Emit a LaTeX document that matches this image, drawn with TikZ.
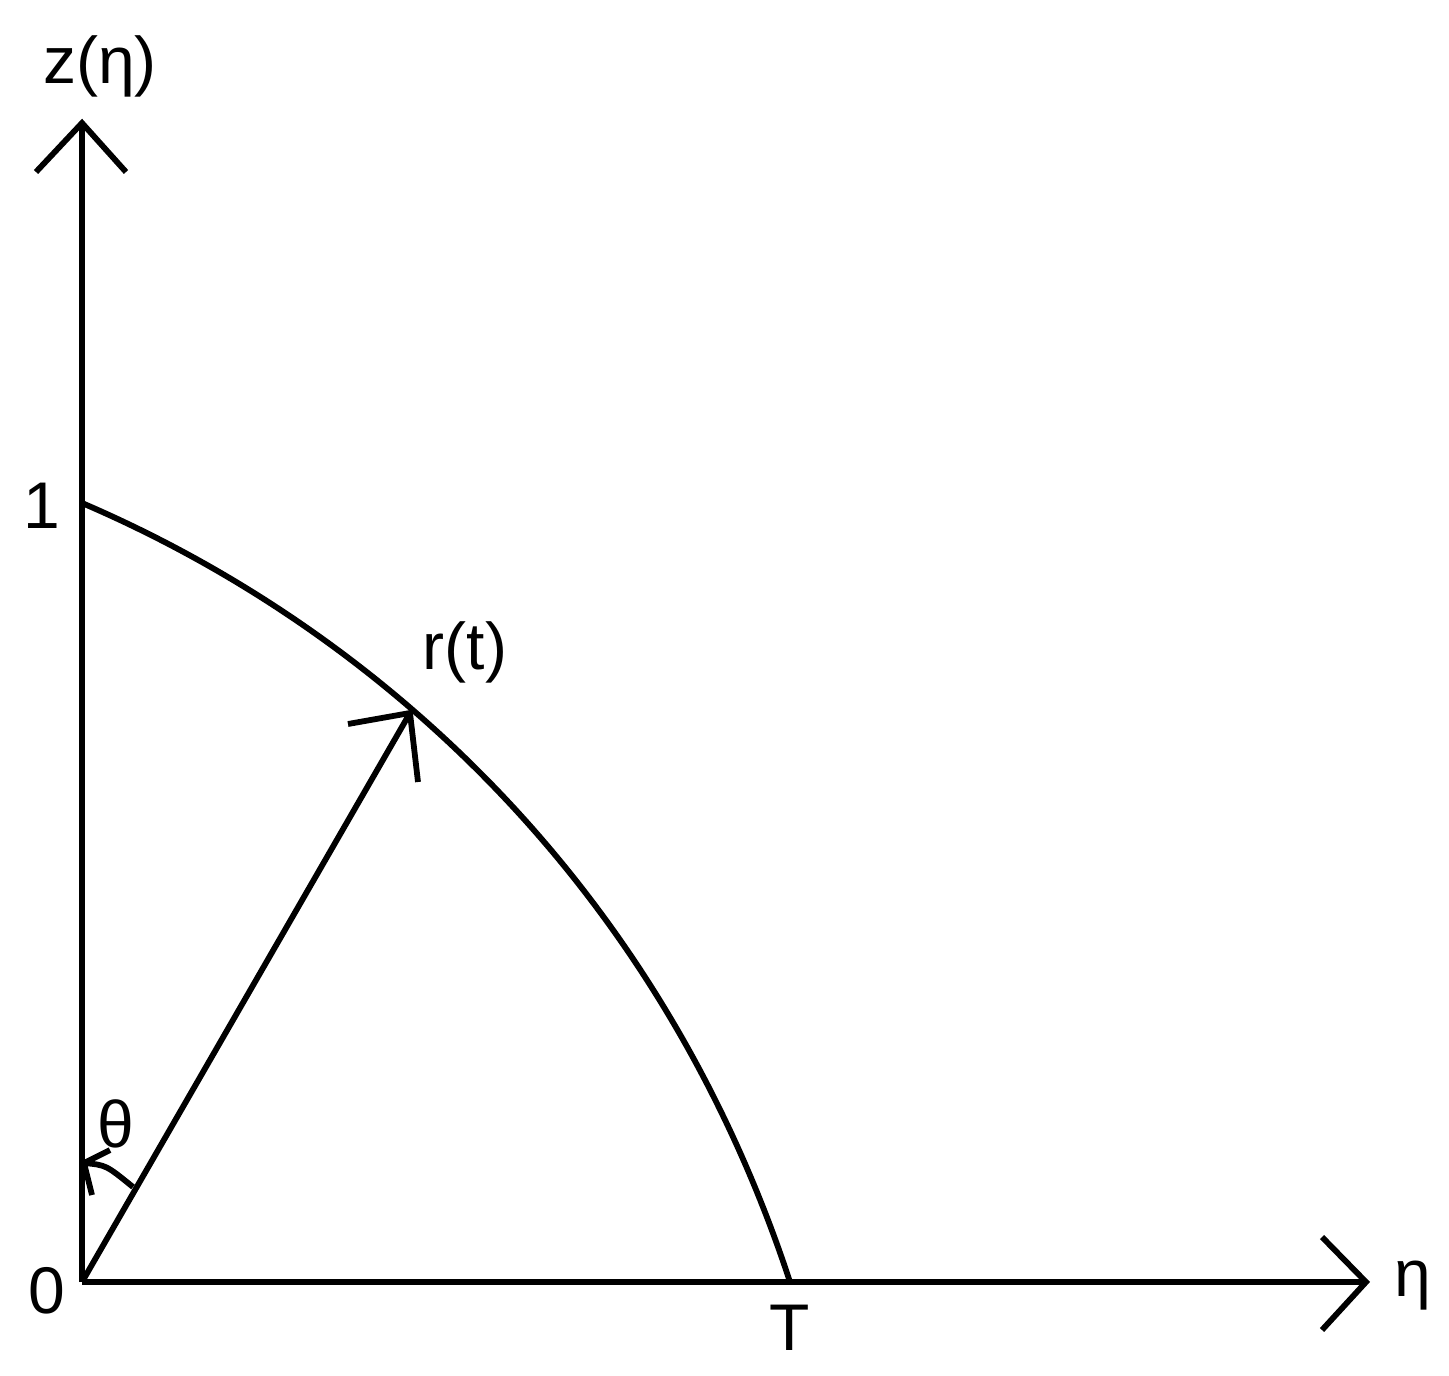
\documentclass[tikz,border=0pt]{standalone}
\usepackage{fontspec}
\setmainfont{Liberation Sans}
\begin{document}
\begin{tikzpicture}[x=0.5pt,y=-0.5pt,
  ln/.style={line width=2.9pt,line join=miter,line cap=butt},
  lbl/.style={inner sep=0pt,anchor=base,font=\fontsize{33}{40}\selectfont}]
\useasboundingbox (0,0) rectangle (1449,1375);
% key points
\coordinate (O) at (82,1282);
\coordinate (Ztip) at (82,123);
\coordinate (Etip) at (1366,1282);
\coordinate (One) at (82,503);
\coordinate (P) at (410,713);
\coordinate (Tpt) at (790,1282);
% axes
\draw[ln] (O) -- (Ztip);
\draw[ln] (36,172) -- (Ztip) -- (126,172);
\draw[ln] (O) -- (Etip);
\draw[ln] (1322,1237) -- (Etip) -- (1322,1330);
% curve
\draw[ln] (One) .. controls (376,629) and (659,883) .. (Tpt);
% vector r(t)
\draw[ln] (O) -- (P);
\draw[ln] (348,724) -- (P) -- (418,782);
% theta arc
\coordinate (Th1) at (133,1187);
\coordinate (Th2) at (84,1163);
\draw[ln] (Th1) .. controls (106,1165) .. (Th2);
\draw[ln] (110,1150) -- (Th2) -- (92,1195);
% labels
\node[lbl] (zl) at (100,84) {z(η)};
\node[lbl] (el) at (1413,1296) {η};
\node[lbl] (zero) at (47,1313) {0};
\node[lbl] (onel) at (42,528) {1};
\node[lbl] (tl) at (790,1350) {T};
\node[lbl] (rl) at (465,669) {r(t)};
\node[lbl] (thl) at (116,1147) {θ};
\end{tikzpicture}
\end{document}
